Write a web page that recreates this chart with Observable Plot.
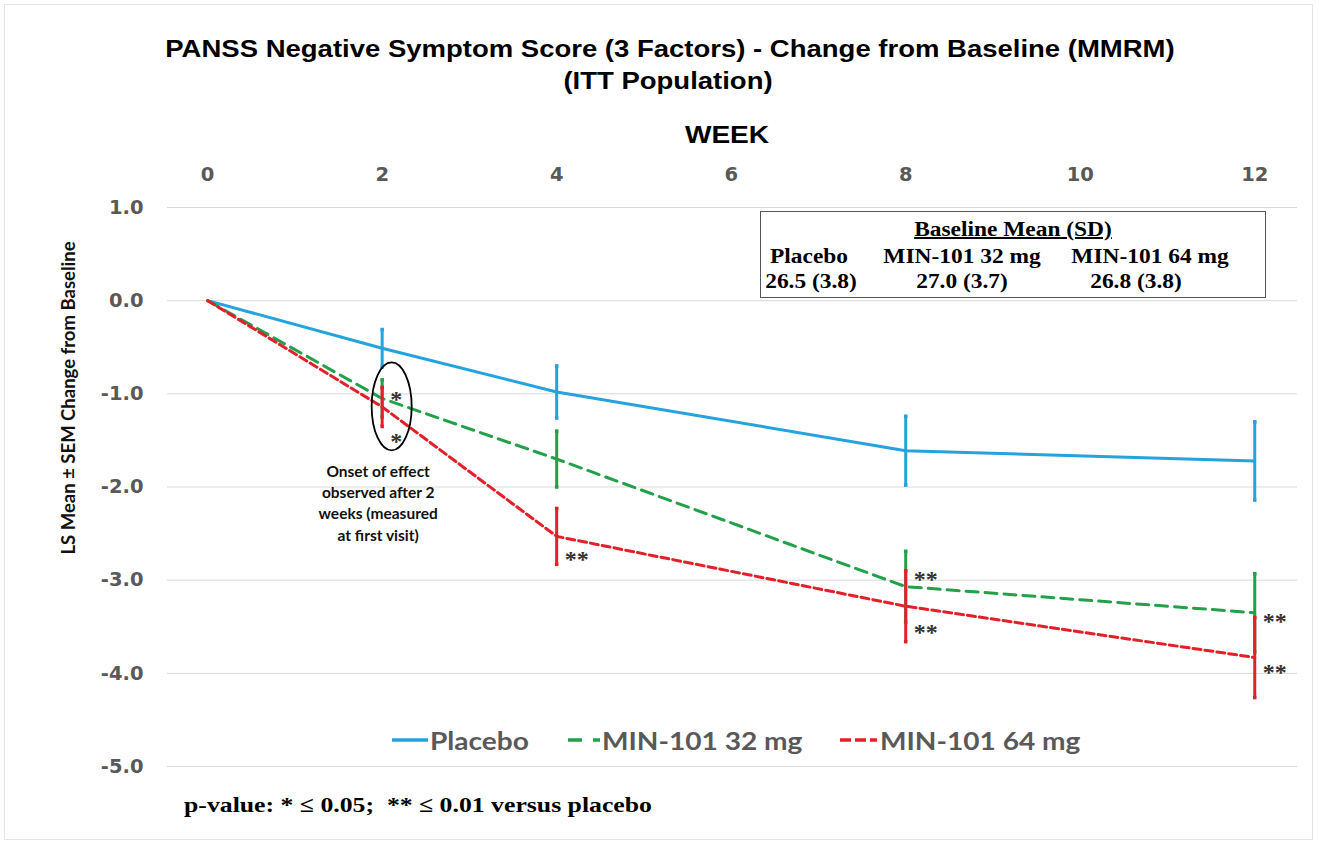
<!DOCTYPE html>
<html>
<head>
<meta charset="utf-8">
<script src="https://cdn.jsdelivr.net/npm/d3@7"></script>
<script src="https://cdn.jsdelivr.net/npm/@observablehq/plot@0.6"></script>
<style>
  body { margin: 0; background: #fff; }
  #wrap { position: relative; width: 1319px; height: 846px; overflow: hidden; background: #fff; }
  #wrap svg.chart { position: absolute; left: 0; top: 0; }
  .t { position: absolute; white-space: nowrap; line-height: 1; }
  .c { transform: translate(-50%, -50%) scaleX(1.17); }
  .l { transform-origin: left center; transform: translateY(-50%) scaleX(1.17); }
  .sans { font-family: "Liberation Sans", Arial, sans-serif; font-weight: bold; color: #000; }
  .serif { font-family: "Liberation Serif", "Times New Roman", serif; font-weight: bold; color: #000; }
  .lato { font-family: Lato, "Open Sans", sans-serif; font-weight: bold; }
  #frame { position: absolute; left: 4px; top: 4px; width: 1309px; height: 836px; border: 1px solid #e4e4e4; box-sizing: border-box; pointer-events: none; }
  #box { position: absolute; left: 760px; top: 211px; width: 506px; height: 87px; border: 1.5px solid #555; box-sizing: border-box; background: #fff; }
</style>
</head>
<body>
<div id="wrap"></div>
<script>
// ---- data ----
const weeks = [0, 2, 4, 8, 12];
const weekTicks = [0, 2, 4, 6, 8, 10, 12];
const yTicks = [1, 0, -1, -2, -3, -4, -5];
const seriesNames = ["Placebo", "MIN-101 32 mg", "MIN-101 64 mg"];
const seriesColors = ["#25a3dc", "#22a04a", "#e3202a"];
const placeboMean = [0, -0.51, -0.98, -1.61, -1.72];
const placeboSem  = [0, 0.20, 0.28, 0.37, 0.42];
const mg32Mean    = [0, -1.05, -1.70, -3.07, -3.35];
const mg32Sem     = [0, 0.20, 0.30, 0.38, 0.42];
const mg64Mean    = [0, -1.14, -2.53, -3.28, -3.83];
const mg64Sem     = [0, 0.21, 0.30, 0.38, 0.43];
const baselineValues = ["26.5 (3.8)", "27.0 (3.7)", "26.8 (3.8)"];
const sigWeek  = [2, 2, 4, 8, 8, 12, 12];
const sigValue = [-0.99, -1.45, -2.71, -2.93, -3.49, -3.38, -3.92];
const sigLabel = ["*", "*", "**", "**", "**", "**", "**"];
const noteText = "Onset of effect\nobserved after 2\nweeks (measured\nat first visit)";
const noteWeek = 2;
const noteValue = -2.16;
const titleLines = ["PANSS Negative Symptom Score (3 Factors) - Change from Baseline (MMRM)", "(ITT Population)"];
const xTitle = "WEEK";
const yTitle = "LS Mean \u00b1 SEM Change from Baseline";
const footnote = "p-value: * \u2264 0.05;\u00a0 ** \u2264 0.01 versus placebo";

// ---- build table ----
const means = [placeboMean, mg32Mean, mg64Mean];
const sems = [placeboSem, mg32Sem, mg64Sem];
const rows = seriesNames.map((s, i) => weeks.map((w, j) => ({
  series: s, week: w, mean: means[i][j], lo: means[i][j] - sems[i][j], hi: means[i][j] + sems[i][j], sem: sems[i][j]
})));
const dashes = [null, "12,7", "8,4"];
const sig = sigWeek.map((w, i) => ({week: w, value: sigValue[i], label: sigLabel[i]}));

const marks = [
  Plot.gridY(yTicks, {stroke: "#d9d9d9", strokeOpacity: 1, strokeWidth: 1}),
  Plot.axisX(weekTicks, {anchor: "top", tickSize: 0, tickPadding: 27, fontSize: 19.5, fontWeight: "bold",
    fontFamily: "DejaVu Sans", color: "#595959", label: null}),
  Plot.axisY(yTicks, {anchor: "left", tickSize: 0, tickPadding: 24, tickFormat: d => d.toFixed(1),
    fontSize: 19.5, fontWeight: "bold", fontFamily: "DejaVu Sans", color: "#595959", label: null})
];
rows.forEach((r, i) => {
  marks.push(Plot.line(r, {x: "week", y: "mean", stroke: seriesColors[i], strokeWidth: 3,
    strokeDasharray: dashes[i] || undefined}));
});
rows.forEach((r, i) => {
  const bars = r.filter(d => d.sem > 0);
  marks.push(Plot.ruleX(bars, {x: "week", y1: "lo", y2: "hi", stroke: seriesColors[i], strokeWidth: 3}));
  marks.push(Plot.dot(bars, {x: "week", y: "lo", r: 2, symbol: "square", fill: seriesColors[i]}));
  marks.push(Plot.dot(bars, {x: "week", y: "hi", r: 2, symbol: "square", fill: seriesColors[i]}));
});
marks.push(Plot.text(sig, {x: "week", y: "value", text: "label", textAnchor: "start", dx: 8, dy: 6,
  fontSize: 24, fontWeight: "bold", fontFamily: "Liberation Serif", fill: "#333"}));
marks.push(Plot.text([{week: noteWeek, value: noteValue, text: noteText}], {x: "week", y: "value", text: "text",
  dx: -4, lineHeight: 1.38, fontSize: 15.5, fontWeight: "bold", fontFamily: "Lato", fill: "#111"}));

const chart = Plot.plot({
  width: 1319, height: 846,
  marginLeft: 167, marginRight: 22, marginTop: 207, marginBottom: 80,
  x: {domain: [-0.46, 12.49]},
  y: {domain: [-5, 1]},
  style: {background: "transparent", overflow: "visible"},
  marks
});
chart.classList.add("chart");

// ellipse around week-2 onset (positioned via the plot's scales)
const xs = chart.scale("x"), ys = chart.scale("y");
d3.select(chart).append("ellipse")
  .attr("cx", xs.apply(noteWeek) + 10)
  .attr("cy", ys.apply(mg64Mean[1]))
  .attr("rx", 20).attr("ry", 44)
  .attr("fill", "none").attr("stroke", "#000").attr("stroke-width", 1.8);

const wrap = document.getElementById("wrap");
wrap.appendChild(chart);

function addText(html, cls, left, top, style) {
  const d = document.createElement("div");
  d.className = "t " + cls;
  d.style.left = left + "px";
  d.style.top = top + "px";
  Object.assign(d.style, style || {});
  d.innerHTML = html;
  wrap.appendChild(d);
  return d;
}
addText(titleLines[0], "c sans", 670, 50, {fontSize: "23.5px"});
addText(titleLines[1], "c sans", 668, 82, {fontSize: "23.5px"});
addText(xTitle, "c sans", 727, 135, {fontSize: "24px"});
const yt = addText(yTitle, "lato", 68, 398, {fontSize: "18.5px", color: "#111"});
yt.style.transform = "translate(-50%, -50%) rotate(-90deg)";
addText(footnote, "c serif", 418, 805, {fontSize: "22px"});

// baseline table
const box = document.createElement("div"); box.id = "box"; wrap.appendChild(box);
addText("<span style='text-decoration:underline'>Baseline Mean (SD)</span>", "c serif", 1013, 229, {fontSize: "20px"});
const colX = [809, 962, 1150];
const valX = [811, 962, 1136];
seriesNames.forEach((s, i) => {
  addText(s, "c serif", colX[i], 256, {fontSize: "20px"});
  addText(baselineValues[i], "c serif", valX[i], 281, {fontSize: "20px"});
});

// legend
const legX = [392, 568, 840];
const legW = [36, 32, 37];
const legTextX = [430, 602, 880];
const legDash = [null, "14,11", "11,4"];
seriesNames.forEach((s, i) => {
  const ns = "http://www.w3.org/2000/svg";
  const sw = document.createElementNS(ns, "svg");
  sw.setAttribute("width", legW[i]); sw.setAttribute("height", 8);
  sw.style.position = "absolute"; sw.style.left = legX[i] + "px"; sw.style.top = "736px";
  const ln = document.createElementNS(ns, "line");
  ln.setAttribute("x1", 0); ln.setAttribute("x2", legW[i]); ln.setAttribute("y1", 4); ln.setAttribute("y2", 4);
  ln.setAttribute("stroke", seriesColors[i]); ln.setAttribute("stroke-width", 3.5);
  if (legDash[i]) ln.setAttribute("stroke-dasharray", legDash[i]);
  sw.appendChild(ln);
  wrap.appendChild(sw);
  addText(s, "l lato", legTextX[i], 741, {fontSize: "24px", color: "#595959"});
});

const fr = document.createElement("div"); fr.id = "frame"; wrap.appendChild(fr);
</script>
</body>
</html>
